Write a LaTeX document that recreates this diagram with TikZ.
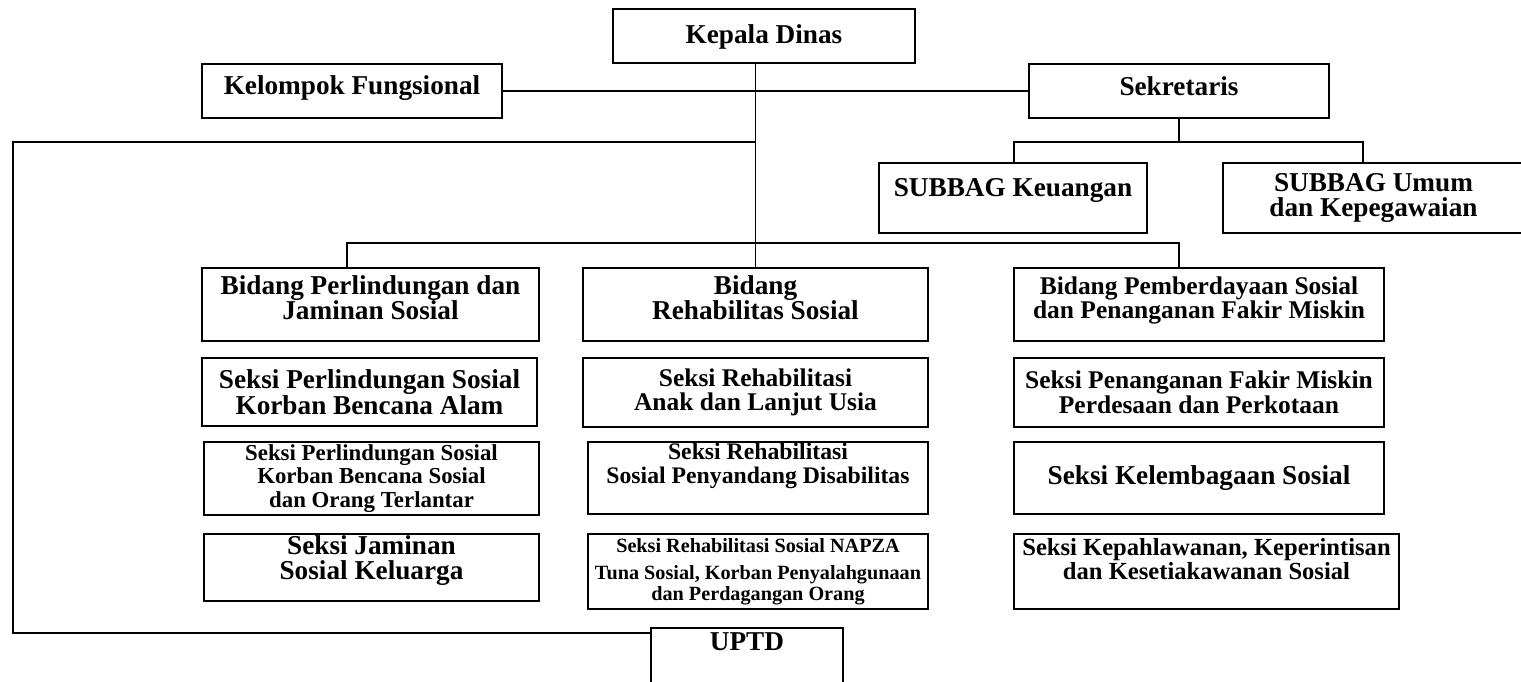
\documentclass[tikz,border=0pt]{standalone}
\usepackage{fontspec}
\setmainfont{Liberation Serif}
\usetikzlibrary{positioning}

\begin{document}
\begin{tikzpicture}[x=0.02cm, y=-0.02cm, line width=1.1pt,
  box/.style={draw, align=center, inner sep=0pt, font=\bfseries\fontsize{15.5}{14.5}\selectfont},
  lift/.style={text depth=#1}]
\useasboundingbox (0,0) rectangle (1521,681);
\clip (0,0) rectangle (1521,681);

% Top
\node[box, minimum width=6.04cm, minimum height=1.08cm, lift=2.4pt] (kd) at (764,36) {Kepala Dinas};
\node[box, minimum width=6cm, minimum height=1.08cm, lift=7pt] (kf) at (352,91) {Kelompok Fungsional};
\node[box, minimum width=6cm, minimum height=1.08cm, lift=5.7pt] (sek) at (1179,91) {Sekretaris};
\node[box, minimum width=5.36cm, minimum height=1.4cm, lift=11.6pt] (sk) at (1013,198) {SUBBAG Keuangan};
\node[box, minimum width=6.03cm, minimum height=1.4cm] (su) at (1373.5,198) {SUBBAG Umum\\dan Kepegawaian};

% Bidang Perlindungan
\node[box, minimum width=6.74cm, minimum height=1.46cm, lift=8pt] (bpj) at (370.5,304.5) {Bidang Perlindungan dan\\Jaminan Sosial};
\node[box, minimum width=6.7cm, minimum height=1.36cm] (alam) at (369.5,392) {Seksi Perlindungan Sosial\\Korban Bencana Alam};
\node[box, minimum width=6.7cm, minimum height=1.46cm, font=\bfseries\fontsize{13}{13.3}\selectfont] (pks) at (371.5,478.5) {Seksi Perlindungan Sosial\\Korban Bencana Sosial\\dan Orang Terlantar};
\node[box, minimum width=6.7cm, minimum height=1.34cm, lift=11.4pt] (jks) at (371.5,567.5) {Seksi Jaminan\\Sosial Keluarga};

% Bidang Rehabilitasi
\node[box, minimum width=6.9cm, minimum height=1.46cm, lift=8pt] (br) at (755.5,304.5) {Bidang\\Rehabilitas Sosial};
\node[box, minimum width=6.9cm, minimum height=1.38cm, font=\bfseries\fontsize{14.5}{14}\selectfont] (ral) at (755.5,392.5) {Seksi Rehabilitasi\\Anak dan Lanjut Usia};
\node[box, minimum width=6.8cm, minimum height=1.44cm, lift=16.9pt, font=\bfseries\fontsize{13.5}{13.7}\selectfont] (rpd) at (758,478) {Seksi Rehabilitasi\\Sosial Penyandang Disabilitas};
\node[box, minimum width=6.8cm, minimum height=1.5cm, font=\bfseries\fontsize{11.5}{10.5}\selectfont] (rnp) at (758,571.5) {Seksi Rehabilitasi Sosial NAPZA\\[5pt]Tuna Sosial, Korban Penyalahgunaan\\dan Perdagangan Orang};

% Bidang Pemberdayaan
\node[box, minimum width=7.4cm, minimum height=1.46cm, lift=7.8pt, font=\bfseries\fontsize{14.5}{14}\selectfont] (bps) at (1199,304.5) {Bidang Pemberdayaan Sosial\\dan Penanganan Fakir Miskin};
\node[box, minimum width=7.4cm, minimum height=1.38cm, font=\bfseries\fontsize{14.5}{14}\selectfont] (pfm) at (1199,392.5) {Seksi Penanganan Fakir Miskin\\Perdesaan dan Perkotaan};
\node[box, minimum width=7.4cm, minimum height=1.44cm] (kls) at (1199,478) {Seksi Kelembagaan Sosial};
\node[box, minimum width=7.7cm, minimum height=1.5cm, lift=14.4pt, font=\bfseries\fontsize{14}{13.7}\selectfont] (kks) at (1206.5,571.5) {Seksi Kepahlawanan, Keperintisan\\dan Kesetiakawanan Sosial};

% UPTD
\node[box, minimum width=3.84cm, minimum height=1.2cm, lift=18.2pt] (uptd) at (747,658) {UPTD};

% Lines
\coordinate (fr) at (13,142);
\coordinate (fb) at (13,633);
\coordinate (bl) at (347,243);
\coordinate (bz) at (1179,243);
\coordinate (sl) at (1014,142);
\coordinate (sr) at (1363,142);

\draw (kd.south -| br.north) -- (br.north);
\draw (kf.east) -- (sek.west);
\draw (br.north |- fr) -- (fr) -- (fb) -- (fb -| uptd.west);
\draw (bl |- bpj.north) -- (bl) -- (bz) -- (bz |- bps.north);
\draw (sek.south) -- (sek.south |- sl);
\draw (sl |- sk.north) -- (sl) -- (sr) -- (sr |- su.north);
\end{tikzpicture}
\end{document}
